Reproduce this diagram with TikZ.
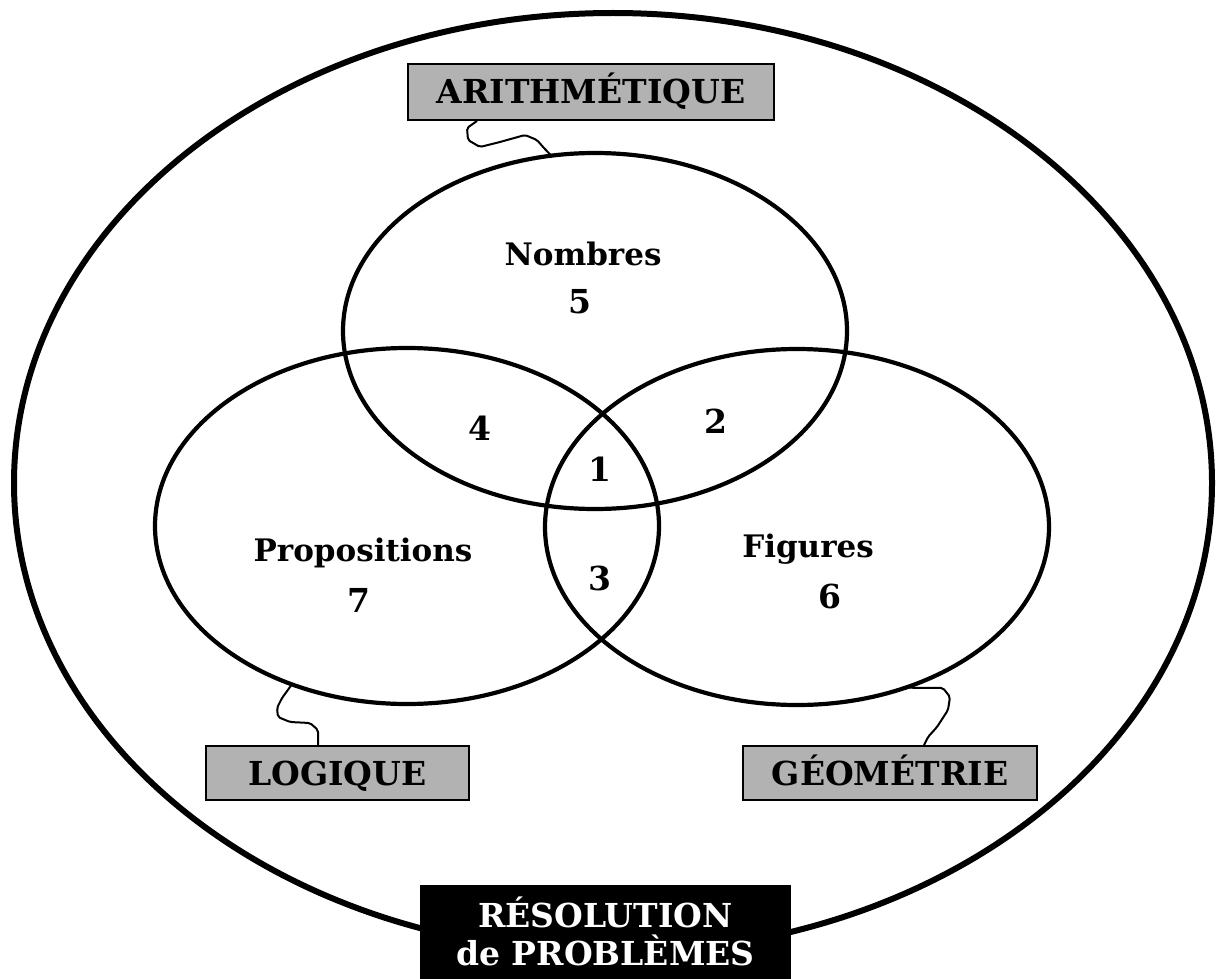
\documentclass[tikz,border=0pt]{standalone}
\usepackage{fontspec}
\setmainfont{DejaVu Serif}
\usetikzlibrary{shapes.geometric,calc}
\newcommand\lblfont{\fontsize{31}{36}\selectfont\bfseries}
\newcommand\boxfont{\fontsize{33}{38}\selectfont\bfseries}
\newcommand\numfont{\fontsize{33}{38}\selectfont\bfseries}
\tikzset{
  outerring/.style={ellipse, draw, line width=6pt, minimum width=1198pt, minimum height=940pt, inner sep=0pt, outer sep=0pt},
  venn/.style={ellipse, draw, line width=4.2pt, minimum width=504pt, minimum height=356pt, inner sep=0pt, outer sep=0pt},
  labelbox/.style={draw, line width=2pt, fill=black!30, inner sep=0pt, font=\boxfont, text height=24pt, text depth=0pt},
  blackbox/.style={fill=black, inner sep=0pt, minimum width=371pt, minimum height=120pt},
  wire/.style={line width=2pt, rounded corners=2pt, line join=round},
  word/.style={font=\lblfont, text height=22.6pt, text depth=0pt, inner sep=0pt},
  boxword/.style={font=\boxfont, text height=24pt, text depth=0pt, inner sep=0pt},
  numlbl/.style={font=\numfont, text height=24pt, text depth=0pt, inner sep=0pt},
}
\begin{document}
\begin{tikzpicture}[x=1pt, y=-1pt]
\useasboundingbox (0,0) rectangle (1216,979);
% outer frame
\node[outerring] (outer) at (613,483) {};
% Venn ellipses
\node[venn] (nombres) at (595,331) {};
\node[venn] (prop) at (407,526) {};
\node[venn] (fig) at (797,527) {};
% label boxes
\node[labelbox, minimum width=366pt, minimum height=56pt] (arith) at (591,92) {ARITHMÉTIQUE};
\node[labelbox, minimum width=263pt, minimum height=54pt] (logique) at (337.5,773) {LOGIQUE};
\node[labelbox, minimum width=294pt, minimum height=54pt] (geom) at (890,773) {GÉOMÉTRIE};
% connectors
\draw[wire] ($(arith.south west)+(70,0)$) -- (467,128) -- (468,140) -- (480,147) -- (500,142) -- (525,135) -- (537,140) -- (543,147) -- (nombres.104);
\draw[wire] (prop.234) -- (282,698) -- (277,708) -- (278,717) -- (290,722) -- (310,723) -- (318,730) -- ($(logique.north west)+(113,0)$);
\draw[wire] (fig.304) -- (943,688) -- (950,697) -- (948,710) -- (937,727) -- (928,737) -- ($(geom.north west)+(182,0)$);
% bottom black box
\node[blackbox, anchor=north] (res) at (605.5,885) {};
\node[boxword, text=white] (res1) at (605.5,915) {RÉSOLUTION};
\node[boxword, text=white] (res2) at (605.5,953) {de PROBLÈMES};
% Venn labels
\node[word] (lnombres) at (583,254) {Nombres};
\node[numlbl] (n5) at (580,301) {5};
\node[word] (lprop) at (363,550) {Propositions};
\node[numlbl] (n7) at (359,600) {7};
\node[word] (lfig) at (808,546) {Figures};
\node[numlbl] (n6) at (830,596) {6};
\node[numlbl] (n4) at (480,428) {4};
\node[numlbl] (n2) at (716,421) {2};
\node[numlbl] (n1) at (600,469) {1};
\node[numlbl] (n3) at (600,578) {3};
\end{tikzpicture}
\end{document}
